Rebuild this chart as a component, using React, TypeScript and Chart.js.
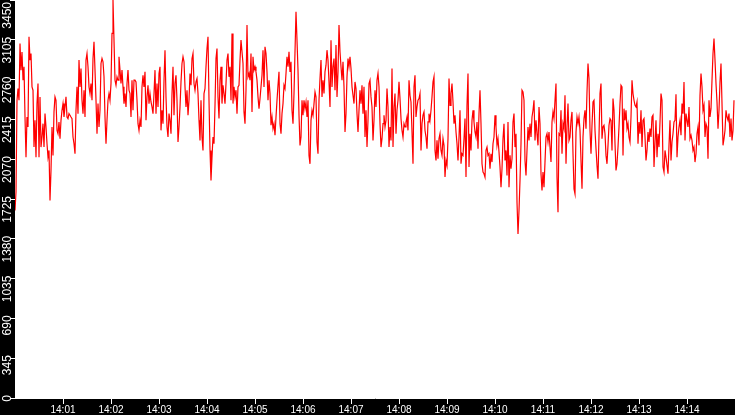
import { useEffect, useRef } from "react"
import { Chart, registerables } from "chart.js"

Chart.register(...registerables)

// one sample every 1.25 s, 14:00:00 - 14:15:00
const SAMPLE_SECONDS = 1.25

const xTickLabels = [
  "14:01", "14:02", "14:03", "14:04", "14:05", "14:06", "14:07",
  "14:08", "14:09", "14:10", "14:11", "14:12", "14:13", "14:14",
]

const yTicks = [0, 345, 690, 1035, 1380, 1725, 2070, 2415, 2760, 3105, 3450]

const load1400 = [
  1625, 1785, 2581, 2682, 2581, 3073, 2842, 3000, 2755, 2871,
  2436, 2088, 2436, 2349, 3131, 2929, 2986, 2697, 2668, 2175,
  2407, 2088, 2552, 2726, 2088, 2610, 2175, 2262, 2378, 2175,
  2465, 2349, 2204, 2088, 2146, 1712, 1973, 2349, 2103, 2480,
  2610, 2581, 2320, 2291, 2392, 2248, 2407, 2494, 2552, 2436,
  2523, 2610, 2436, 2422, 2465, 2451, 2436, 2422, 2262, 2204,
  2117, 2494, 2697, 2465, 2929, 2697, 2856, 2581, 2465, 2668,
  2436, 2929, 2986, 2871, 2697, 2639, 2726, 2581, 2943, 3088,
  2842, 2581, 2291, 2552, 2349, 2494, 2900, 2943, 2914, 2784,
  2436, 2204, 2407, 2581, 2639, 2581, 2726, 3160, 3450, 3102,
  2755, 2711, 2784, 2755, 2958, 2842, 2726, 2842, 2697, 2552,
  2639, 2523, 2726, 2842, 2668, 2639, 2436, 2755, 2494, 2755,
]

const load1402 = [
  2755, 2740, 2581, 2378, 2320, 2407, 2349, 2697, 2798, 2697,
  2827, 2407, 2610, 2711, 2552, 2639, 2566, 2523, 2465, 2639,
  2842, 2465, 2726, 2523, 2813, 2871, 2320, 2494, 2378, 2755,
  3015, 2610, 2349, 2262, 2465, 2407, 2291, 2639, 2871, 2451,
  2726, 2798, 2581, 2219, 2349, 2523, 2740, 2900, 2958, 2914,
  2697, 2523, 2668, 2451, 2581, 2813, 2711, 2943, 2986, 2726,
  2668, 2740, 2769, 2639, 2407, 2233, 2581, 2262, 2146, 2639,
  2682, 2871, 3030, 3131, 2581, 2146, 1886, 2088, 2262, 2204,
  2537, 2943, 3030, 2610, 2422, 2755, 2871, 2552, 2711, 2639,
  2552, 2726, 2929, 2986, 2784, 2871, 2581, 3160, 2552, 2697,
  2610, 2668, 2465, 2697, 2711, 2929, 3102, 3001, 2900, 2480,
  2378, 2668, 3233, 2784, 2813, 2755, 2986, 2480, 2958, 2842,
]

const load1405 = [
  2871, 2827, 2755, 2610, 2508, 2595, 2697, 2798, 3015, 2697,
  3044, 2986, 2827, 2581, 2755, 2639, 2364, 2436, 2335, 2378,
  2277, 2436, 2581, 2711, 2827, 2378, 2291, 2465, 2552, 2711,
  2682, 2813, 2958, 2871, 3001, 2827, 2914, 2494, 2378, 2639,
  3001, 3349, 3102, 2842, 2451, 2190, 2262, 2581, 2451, 2581,
  2508, 2566, 2436, 2581, 2103, 2030, 2407, 2494, 2451, 2552,
  2653, 2610, 2219, 2117, 2581, 2769, 2929, 2610, 2755, 2639,
  2827, 2885, 3015, 2929, 2740, 2523, 3102, 2697, 2871, 2943,
  2668, 3059, 2610, 2827, 3233, 3001, 2871, 2755, 2914, 2697,
  2306, 2465, 2784, 2943, 2871, 2958, 2856, 2697, 2624, 2552,
  2740, 2682, 2465, 2306, 2494, 2668, 2552, 2711, 2465, 2697,
  2262, 2494, 2175, 2407, 2726, 2755, 2610, 2523, 2233, 2407,
]

const load1407 = [
  2668, 2523, 2755, 2813, 2697, 2378, 2175, 2248, 2378, 2451,
  2349, 2407, 2682, 2523, 2175, 2349, 2233, 2856, 2175, 2523,
  2639, 2291, 2494, 2581, 2740, 2595, 2422, 2320, 2262, 2378,
  2349, 2393, 2436, 2320, 2755, 2624, 2566, 2306, 2030, 2697,
  2798, 2436, 2523, 2581, 2595, 2639, 2146, 2378, 2451, 2480,
  2320, 2262, 2161, 2393, 2465, 2407, 2494, 2610, 2740, 2784,
  2146, 2059, 2233, 2074, 2248, 2291, 2146, 2103, 2248, 2190,
  1915, 2059, 2016, 2248, 2769, 2537, 2639, 2726, 2566, 2378,
  2451, 2306, 2204, 2059, 2262, 2494, 2030, 2117, 2103, 2248,
  2422, 1915, 2537, 2813, 2002, 2291, 2146, 2407, 2494, 2393,
  2306, 2262, 2393, 2161, 2465, 2668, 2378, 2030, 1958, 1944,
  1915, 2146, 2175, 2103, 2117, 1987, 2117, 2045, 2204, 2262,
]

const load1410 = [
  2451, 2349, 2190, 2248, 2132, 2002, 1828, 1987, 2248, 2378,
  2059, 2146, 1929, 2393, 1828, 2103, 1987, 2074, 2393, 2465,
  2175, 2291, 1697, 1422, 1625, 1886, 2204, 2668, 2653, 2581,
  2059, 1929, 2146, 2349, 2233, 2378, 2262, 2436, 2494, 2581,
  2233, 2407, 2291, 2190, 2523, 2378, 1944, 1799, 1958, 1828,
  2045, 2262, 2291, 2219, 2306, 2175, 2045, 2393, 2480, 2422,
  2581, 2726, 1915, 1610, 2291, 2277, 2494, 2117, 2378, 2335,
  2624, 2030, 2349, 2552, 2233, 2262, 2407, 2480, 2117, 1813,
  1770, 2306, 2436, 2378, 2436, 2320, 2059, 1813, 2262, 2422,
  2494, 2335, 2653, 2900, 2769, 2320, 2117, 2364, 2566, 2581,
  2320, 2161, 2016, 1900, 2277, 2639, 2726, 2248, 2349, 2364,
  2291, 2103, 2030, 2190, 2364, 2422, 2407, 2146, 2595, 2494,
]

const load1412 = [
  2204, 1973, 2030, 2175, 2349, 2552, 2711, 2697, 2103, 2508,
  2407, 2494, 2335, 2378, 2262, 2219, 2436, 2755, 2639, 2581,
  2537, 2523, 2566, 2204, 2393, 2291, 2494, 2175, 2407, 2422,
  2262, 2059, 2146, 2306, 2219, 2335, 2262, 2436, 2451, 2002,
  2219, 2407, 2088, 2291, 2175, 2393, 2639, 2581, 2002, 1958,
  2146, 2088, 2016, 1944, 2190, 2407, 2059, 2219, 2291, 2393,
  2407, 2633, 2088, 2262, 2349, 2407, 2277, 2552, 2465, 2740,
  2233, 2465, 2407, 2349, 2523, 2248, 2277, 2233, 2146, 2175,
  2045, 2117, 2291, 2349, 2190, 2624, 2813, 2697, 2494, 2537,
  2262, 2378, 2349, 2074, 2581, 2436, 2508, 2755, 2986, 3117,
  2929, 2726, 2566, 2335, 2494, 2740, 2900, 2552, 2190, 2248,
  2320, 2494, 2436, 2407, 2465, 2262, 2422, 2233, 2320, 2581,
]

const load = [...load1400, ...load1402, ...load1405, ...load1407, ...load1410, ...load1412]

// black frame with a white plotting area
const frameBackground = {
  id: "frameBackground",
  beforeDraw(chart: Chart) {
    const { ctx, chartArea } = chart
    ctx.save()
    ctx.fillStyle = "#000"
    ctx.fillRect(0, 0, chart.width, chart.height)
    ctx.fillStyle = "#fff"
    ctx.fillRect(chartArea.left, chartArea.top, chartArea.right - chartArea.left, chartArea.bottom - chartArea.top)
    ctx.restore()
  },
}

// y labels read bottom-to-top in the narrow left strip
const verticalYLabels = {
  id: "verticalYLabels",
  afterDraw(chart: Chart) {
    const { ctx } = chart
    const scale = chart.scales.y
    ctx.save()
    ctx.fillStyle = "#fff"
    ctx.font = "12px 'Liberation Sans'"
    ctx.textAlign = "right"
    ctx.textBaseline = "alphabetic"
    yTicks.forEach(v => {
      const py = Math.max(2, scale.getPixelForValue(v) - 3)
      ctx.save()
      ctx.translate(11, py)
      ctx.rotate(-Math.PI / 2)
      ctx.fillText(String(v), 0, 0)
      ctx.restore()
    })
    ctx.restore()
  },
}

export default function App() {
  const canvasRef = useRef<HTMLCanvasElement>(null)
  const chartRef = useRef<Chart | null>(null)

  useEffect(() => {
    if (!canvasRef.current) return
    if (chartRef.current) chartRef.current.destroy()

    chartRef.current = new Chart(canvasRef.current, {
      type: "line",
      data: {
        datasets: [
          {
            data: load.map((v, i) => ({ x: i * SAMPLE_SECONDS, y: v })),
            borderColor: "#ff0000",
            borderWidth: 1.2,
            pointRadius: 0,
            tension: 0,
            fill: false,
          },
        ],
      },
      options: {
        animation: false,
        responsive: false,
        layout: { padding: 0 },
        plugins: {
          legend: { display: false },
          tooltip: { enabled: false },
        },
        scales: {
          x: {
            type: "linear",
            min: 0,
            max: 900,
            afterBuildTicks: (s: any) => {
              s.ticks = s.ticks.filter((t: any) => t.value > 0 && t.value < 900)
            },
            afterFit: (s: any) => {
              s.height = 17
            },
            ticks: {
              stepSize: 60,
              autoSkip: false,
              maxRotation: 0,
              padding: 0,
              color: "#fff",
              font: { family: "'Liberation Sans'", size: 10 },
              callback: (v: any) => xTickLabels[Math.round(v / 60) - 1] ?? "",
            },
            grid: { drawOnChartArea: false, color: "#fff", tickLength: 6 },
            border: { display: true, color: "#fff", width: 1 },
          },
          y: {
            min: 0,
            max: 3450,
            afterFit: (s: any) => {
              s.width = 15
            },
            ticks: { stepSize: 345, display: false },
            grid: { drawOnChartArea: false, color: "#fff", tickLength: 5 },
            border: { display: false },
          },
        },
      },
      plugins: [frameBackground, verticalYLabels],
    })

    return () => {
      if (chartRef.current) {
        chartRef.current.destroy()
        chartRef.current = null
      }
    }
  }, [])

  return (
    <div style={{ position: "fixed", left: 0, top: 0, width: 735, height: 415, background: "#000" }}>
      <canvas ref={canvasRef} width={735} height={415} style={{ display: "block" }} />
    </div>
  )
}
